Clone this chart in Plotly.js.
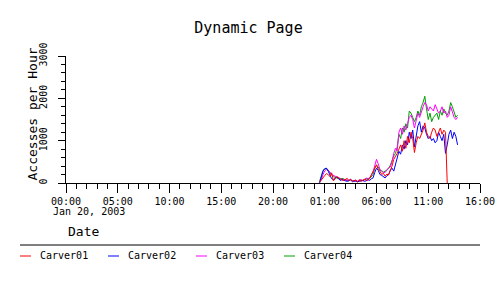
<!DOCTYPE html>
<html>
<head>
<meta charset="utf-8">
<script src="https://cdn.plot.ly/plotly-3.0.1.min.js"></script>
<style>html,body{margin:0;padding:0;background:#fff;}#chart{width:500px;height:300px;}</style>
</head>
<body>
<div id="chart"></div>
<script>
const times = ["00:30","00:40","00:50","01:00","01:10","01:20","01:30","01:40","01:50","02:00","02:10","02:20","02:30","02:40","02:50","03:00","03:10","03:20","03:30","03:40","03:50","04:00","04:10","04:20","04:30","04:40","04:50","05:00","05:10","05:20","05:30","05:40","05:50","06:00","06:10","06:20","06:30","06:40","06:50","07:00","07:10","07:20","07:30","07:40","07:50","08:00","08:10","08:20","08:30","08:40","08:50","09:00","09:10","09:20","09:30","09:40","09:50","10:00","10:10","10:20","10:30","10:40","10:50","11:00","11:10","11:20","11:30","11:40","11:50","12:00","12:10","12:20","12:30","12:40","12:50","13:00","13:10","13:20","13:30","13:40","13:50"];
const dataDay = "2003-01-21";

const carver01 = [20,60,120,180,220,200,150,240,50,100,150,130,90,70,60,80,110,60,80,40,60,70,20,80,40,60,90,70,60,110,200,250,380,430,320,280,200,230,160,210,190,280,400,560,620,700,800,900,750,1000,820,1100,950,1200,1050,720,950,1100,1050,1150,1250,1420,1200,1100,1050,1200,1300,1250,1100,1200,1300,1150,1250,1200,0];
const carver02 = [0,120,280,340,350,280,200,100,80,120,140,110,60,80,60,50,40,60,70,30,50,40,30,40,50,60,40,50,80,60,100,120,250,350,300,200,180,150,120,170,200,300,350,280,450,600,750,680,900,800,1000,900,1200,1050,1250,850,1100,1350,1450,1200,1350,1300,1150,1050,1100,1000,1050,950,1000,1200,1100,1000,1150,700,900,1150,1250,1050,1200,1100,900];
const carver03 = [20,80,200,290,320,300,260,200,170,160,140,120,100,80,90,60,70,60,90,50,40,70,40,60,80,50,70,120,90,130,180,260,420,560,450,320,280,240,250,300,360,380,500,700,820,760,1200,1300,1150,1350,1250,1400,1550,1600,1500,1300,1450,1650,1550,1700,1800,1900,1850,1700,1800,1750,1700,1850,1750,1650,1700,1800,1650,1700,1550,1600,1800,1650,1550,1500,1550];
const carver04 = [40,160,300,330,340,310,240,180,150,140,120,100,90,110,90,70,60,50,80,60,40,60,30,50,70,60,80,90,110,100,150,200,350,420,380,300,290,260,280,320,340,420,560,640,700,850,1150,1050,1300,1200,1400,1300,1700,1650,1550,1450,1550,1700,1600,1800,1900,2050,1750,1500,1650,1450,1550,1600,1650,1500,1700,1600,1750,1650,1600,1700,1900,1800,1650,1550,1600];

const names = ["Carver01","Carver02","Carver03","Carver04"];
const colors = ["#ff0000","#0000ff","#ff00ff","#00a000"];
const series = [carver01, carver02, carver03, carver04];
const yTicks = [0,1000,2000,3000];

const FONT = "DejaVu Sans Mono, Liberation Mono, monospace";
const L = 66, R = 20, T = 56, B = 117, W = 500 - L - R, H = 300 - T - B;
const px = v => (v - L) / W;
const py = v => (300 - B - v) / H;

const xs = times.map(t => dataDay + " " + t);
const traces = [];
[3,2,1,0].forEach(i => {
  traces.push({
    type: "scatter", mode: "lines", name: names[i],
    x: xs.slice(0, series[i].length), y: series[i],
    line: {color: colors[i], width: 1},
    showlegend: false, hoverinfo: "skip"
  });
});

const shapes = [{type:"line", xref:"paper", yref:"paper", x0:px(20), x1:px(480), y0:py(245), y1:py(245), line:{color:"#000", width:1}}];
const annotations = [
  {text:"Jan 20, 2003", xref:"paper", yref:"paper", x:px(51), y:py(211.5), xanchor:"left", yanchor:"middle", showarrow:false, font:{family:FONT, size:10, color:"#000"}},
  {text:"Date", xref:"paper", yref:"paper", x:px(66), y:py(231), xanchor:"left", yanchor:"middle", showarrow:false, font:{family:FONT, size:13, color:"#000"}},
  {text:"Accesses per Hour", xref:"paper", yref:"paper", x:px(32), y:py(183), xanchor:"center", yanchor:"bottom", textangle:-90, showarrow:false, font:{family:FONT, size:13, color:"#000"}}
];
names.forEach((n, i) => {
  shapes.push({type:"line", xref:"paper", yref:"paper", x0:px(20 + 88*i), x1:px(31 + 88*i), y0:py(256), y1:py(256), line:{color:colors[i], width:1}});
  annotations.push({text:n, xref:"paper", yref:"paper", x:px(38 + 88*i), y:py(256), xanchor:"left", yanchor:"middle", showarrow:false, font:{family:FONT, size:10, color:"#000"}});
});

const layout = {
  width: 500, height: 300,
  margin: {l:L, r:R, t:T, b:B, pad:0},
  paper_bgcolor: "#fff", plot_bgcolor: "#fff",
  font: {family: FONT, color: "#000"},
  title: {text: "Dynamic Page", x: 0.497, xanchor: "center", y: 1 - 28/300, yref: "container", yanchor: "middle", font: {family: FONT, size: 15, color: "#000"}},
  xaxis: {
    type: "date", range: ["2003-01-20 00:00", "2003-01-21 16:00"],
    tick0: "2003-01-20 00:00", dtick: 5*3600*1000, tickformat: "%H:%M",
    ticks: "outside", ticklen: 9, tickcolor: "#000", tickwidth: 1,
    minor: {dtick: 3600*1000, ticks: "outside", ticklen: 5, tickcolor: "#000", tickwidth: 1, showgrid: false},
    showline: true, linecolor: "#000", linewidth: 1, showgrid: false, zeroline: false,
    tickfont: {family: FONT, size: 10, color: "#000"}, fixedrange: true
  },
  yaxis: {
    range: [0, 3000], tickvals: yTicks, ticktext: yTicks.map(String), tickangle: -90,
    ticks: "outside", ticklen: 7, tickcolor: "#000", tickwidth: 1,
    minor: {dtick: 200, tick0: 0, ticks: "outside", ticklen: 4, tickcolor: "#000", tickwidth: 1, showgrid: false},
    showline: true, linecolor: "#000", linewidth: 1, showgrid: false, zeroline: false,
    tickfont: {family: FONT, size: 10, color: "#000"}, ticklabelstandoff: 7, fixedrange: true
  },
  shapes: shapes, annotations: annotations, showlegend: false
};

Plotly.newPlot("chart", traces, layout, {staticPlot: true, displayModeBar: false});
</script>
</body>
</html>
